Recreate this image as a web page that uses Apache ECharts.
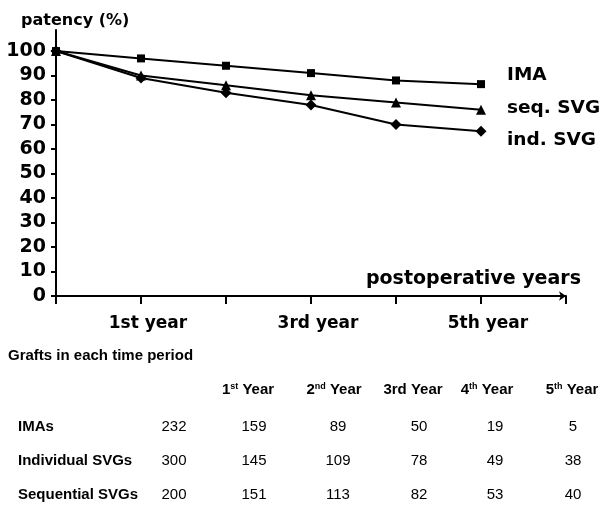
<!DOCTYPE html>
<html>
<head>
<meta charset="utf-8">
<script src="https://cdn.jsdelivr.net/npm/echarts@6/dist/echarts.min.js"></script>
<style>
    html, body { margin: 0; padding: 0; background: #fff; }
    #main { width: 606px; height: 505px; }
</style>
</head>
<body>
<div id="main"></div>
<script>
// chart data
var years = ['', '1st year', '', '3rd year', '', '5th year', ''];
var imaPatency = [100, 97, 94, 91, 88, 86.5];
var seqPatency = [100, 90, 86, 82, 79, 76];
var indPatency = [100, 89, 83, 78, 70, 67.3];
var yTicks = [0, 10, 20, 30, 40, 50, 60, 70, 80, 90, 100];

// table data
var tableTitle = 'Grafts in each time period';
var tableHeads = [['1', 'st'], ['2', 'nd'], ['3rd', ''], ['4', 'th'], ['5', 'th']];
var rowNames = ['IMAs', 'Individual SVGs', 'Sequential SVGs'];
var graftsIMA = [232, 159, 89, 50, 19, 5];
var graftsInd = [300, 145, 109, 78, 49, 38];
var graftsSeq = [200, 151, 113, 82, 53, 40];

var boldFont = 'DejaVu Sans';
var tableFont = 'Liberation Sans';

var myChart = echarts.init(document.getElementById('main'));

// table texts
var colX = [174, 254, 338, 419, 495, 573];
var headX = [248, 334, 413, 487, 572];
var rowY = [427, 461, 495];
var rows = [graftsIMA, graftsInd, graftsSeq];
var graphics = [];

graphics.push({
    type: 'text', left: 8, top: 348,
    style: { text: tableTitle, fontFamily: tableFont, fontWeight: 'bold', fontSize: 15, fill: '#000' }
});

tableHeads.forEach(function (h, i) {
    var txt = h[1] ? '{n|' + h[0] + '}{s|' + h[1] + '}{n| Year}' : '{n|' + h[0] + ' Year}';
    graphics.push({
        type: 'text', x: headX[i], y: 390,
        style: {
            text: txt, align: 'center', verticalAlign: 'middle', fill: '#000',
            rich: {
                n: { fontFamily: tableFont, fontWeight: 'bold', fontSize: 15, fill: '#000' },
                s: { fontFamily: tableFont, fontWeight: 'bold', fontSize: 9, fill: '#000', verticalAlign: 'top' }
            }
        }
    });
});

rowNames.forEach(function (name, r) {
    graphics.push({
        type: 'text', x: 18, y: rowY[r],
        style: { text: name, fontFamily: tableFont, fontWeight: 'bold', fontSize: 15, fill: '#000', verticalAlign: 'middle' }
    });
    rows[r].forEach(function (v, c) {
        graphics.push({
            type: 'text', x: colX[c], y: rowY[r],
            style: { text: String(v), fontFamily: tableFont, fontSize: 15, fill: '#000', align: 'center', verticalAlign: 'middle' }
        });
    });
});

function lineSeries(name, data, symbol, size, offset) {
    return {
        name: name,
        type: 'line',
        data: data,
        symbol: symbol,
        symbolSize: size,
        lineStyle: { color: '#000', width: 2 },
        itemStyle: { color: '#000' },
        endLabel: {
            show: true,
            formatter: '{a}',
            offset: offset,
            fontFamily: boldFont,
            fontWeight: 'bold',
            fontSize: 18.5,
            color: '#000'
        },
        animation: false
    };
}

var option = {
    title: {
        text: 'patency (%)',
        left: 16,
        top: 8,
        textStyle: { fontFamily: boldFont, fontWeight: 'bold', fontSize: 16, color: '#000' }
    },
    grid: { left: 56, right: 40, top: 30, bottom: 209, containLabel: false },
    xAxis: {
        type: 'category',
        data: years,
        boundaryGap: false,
        name: 'postoperative years',
        nameLocation: 'end',
        nameGap: 15,
        nameTextStyle: {
            fontFamily: boldFont, fontWeight: 'bold', fontSize: 19, color: '#000',
            align: 'right', verticalAlign: 'bottom', padding: [0, 0, 7, 0]
        },
        axisLine: { lineStyle: { color: '#000', width: 2 }, symbol: ['none', 'arrow'], symbolSize: [7, 7] },
        axisTick: { length: 8, lineStyle: { color: '#000', width: 2 }, interval: 0 },
        axisLabel: {
            interval: 0, margin: 19, color: '#000',
            fontFamily: boldFont, fontWeight: 'bold', fontSize: 17,
            padding: [0, 0, 0, 14]
        },
        splitLine: { show: false }
    },
    yAxis: {
        type: 'value',
        min: 0,
        max: 108.6,
        interval: 10,
        axisLine: { show: true, lineStyle: { color: '#000', width: 2 } },
        axisTick: { show: true, length: 5, lineStyle: { color: '#000', width: 2 }, customValues: yTicks },
        axisLabel: {
            margin: 10, color: '#000',
            fontFamily: boldFont, fontWeight: 'bold', fontSize: 19,
            customValues: yTicks
        },
        splitLine: { show: false }
    },
    graphic: graphics,
    series: [
        lineSeries('IMA', imaPatency, 'rect', 8, [18, -9]),
        lineSeries('seq. SVG', seqPatency, 'triangle', 10, [18, -2]),
        lineSeries('ind. SVG', indPatency, 'diamond', 11, [18, 9])
    ]
};

myChart.setOption(option);
</script>
</body>
</html>
